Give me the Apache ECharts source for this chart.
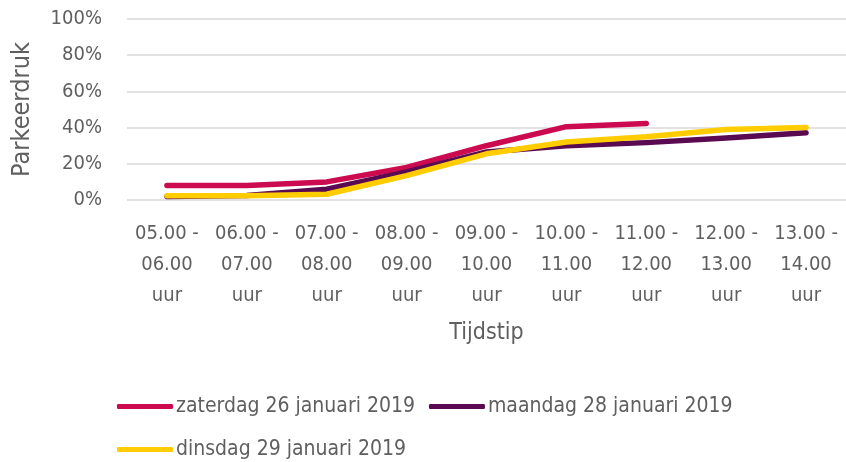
<!DOCTYPE html>
<html>
<head>
<meta charset="utf-8">
<script src="https://cdn.jsdelivr.net/npm/echarts@6/dist/echarts.min.js"></script>
<style>
  html, body { margin: 0; padding: 0; background: #fff; }
  #chart { width: 846px; height: 462px; }
</style>
</head>
<body>
<div id="chart"></div>
<script>
const categories = [
  '05.00 -\n06.00\nuur', '06.00 -\n07.00\nuur', '07.00 -\n08.00\nuur',
  '08.00 -\n09.00\nuur', '09.00 -\n10.00\nuur', '10.00 -\n11.00\nuur',
  '11.00 -\n12.00\nuur', '12.00 -\n13.00\nuur', '13.00 -\n14.00\nuur'
]
const zaterdag = [8, 8, 10, 18, 30, 40.5, 42.3]
const maandag = [2, 2.5, 6, 15.5, 26.5, 30, 31.7, 34.3, 37.2]
const dinsdag = [2.4, 2.4, 3.2, 13.5, 25.5, 32, 35, 39, 40]
const seriesNames = ['zaterdag 26 januari 2019', 'maandag 28 januari 2019', 'dinsdag 29 januari 2019']

const font = "'Liberation Sans Narrow', 'DejaVu Sans Condensed', sans-serif"
const textColor = '#5f5f5f'
const colors = ['#cc0a4f', '#5a0a50', '#ffcc00']

const chart = echarts.init(document.getElementById('chart'))

const lineSeries = (name, data, color) => ({
  name: name,
  type: 'line',
  data: data,
  symbol: 'none',
  smooth: false,
  color: color,
  lineStyle: { width: 5.5, color: color, cap: 'round', join: 'round' }
})

const legendBase = {
  orient: 'horizontal',
  left: 112,
  itemWidth: 56,
  itemHeight: 5,
  itemGap: 14,
  icon: 'roundRect',
  textStyle: { fontFamily: font, fontSize: 21, color: textColor, padding: [0, 0, 0, -2] }
}

chart.setOption({
  animation: false,
  textStyle: { fontFamily: font },
  grid: { left: 127, right: 0, top: 19, bottom: 262 },
  legend: [
    Object.assign({}, legendBase, { top: 391, data: [seriesNames[0], seriesNames[1]] }),
    Object.assign({}, legendBase, { top: 434, data: [seriesNames[2]] })
  ],
  xAxis: {
    type: 'category',
    data: categories,
    boundaryGap: true,
    axisLine: { show: false },
    axisTick: { show: false },
    axisLabel: {
      interval: 0,
      margin: 18,
      fontSize: 20,
      lineHeight: 31,
      color: textColor,
      fontFamily: font
    },
    name: 'Tijdstip',
    nameLocation: 'middle',
    nameGap: 122,
    nameTextStyle: { fontSize: 23, color: textColor, fontFamily: font }
  },
  yAxis: {
    type: 'value',
    min: 0,
    max: 100,
    interval: 20,
    axisLine: { show: false },
    axisTick: { show: false },
    axisLabel: {
      formatter: '{value}%',
      margin: 25,
      fontSize: 20,
      color: textColor,
      fontFamily: font
    },
    splitLine: { lineStyle: { color: '#d9d9d9', width: 1.5 } },
    name: 'Parkeerdruk',
    nameLocation: 'middle',
    nameGap: 92,
    nameTextStyle: { fontSize: 25, color: textColor, fontFamily: font }
  },
  series: [
    lineSeries(seriesNames[0], zaterdag, colors[0]),
    lineSeries(seriesNames[1], maandag, colors[1]),
    lineSeries(seriesNames[2], dinsdag, colors[2])
  ]
})
</script>
</body>
</html>
